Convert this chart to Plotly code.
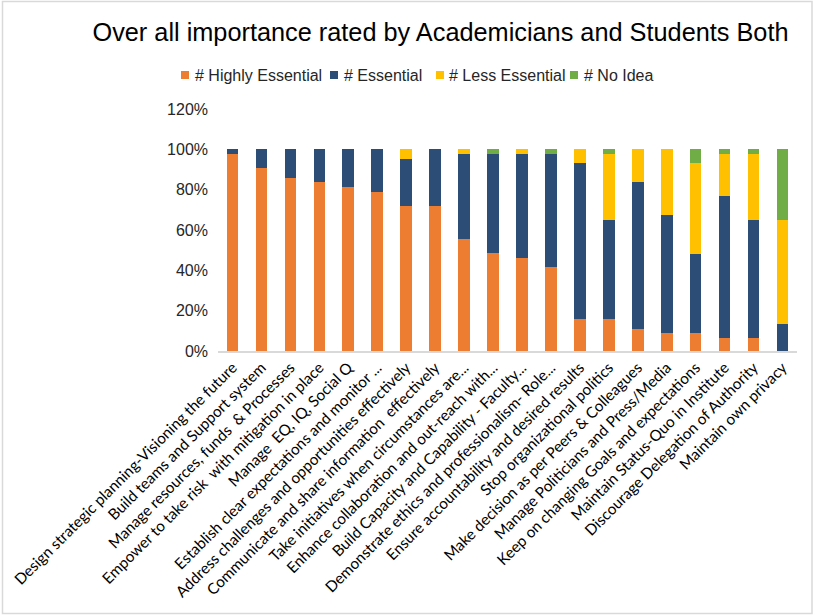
import plotly.graph_objects as go

# Competencies rated (x-axis categories)
competencies = [
    "Design strategic planning-Visioning the future",
    "Build teams and Support system",
    "Manage resources, funds  & Processes",
    "Empower to take risk  with mitigation in place",
    "Manage  EQ, IQ, Social Q",
    "Establish clear expectations and monitor ...",
    "Address challenges and opportunities effectively",
    "Communicate and share information  effectively",
    "Take initiatives when circumstances are...",
    "Enhance collaboration and out-reach with...",
    "Build Capacity and Capability - Faculty...",
    "Demonstrate ethics and professionalism- Role...",
    "Ensure accountability and desired results",
    "Stop organizational politics",
    "Make decision as per Peers & Colleagues",
    "Manage Politicians and Press/Media",
    "Keep on changing Goals and expectations",
    "Maintain Status-Quo in Institute",
    "Discourage Delegation of Authority",
    "Maintain own privacy",
]

# Share of responses per rating (percent of each competency's total)
highly_essential = [97.8, 90.8, 86.0, 83.8, 81.3, 79.0, 71.8, 71.8, 55.7, 48.5,
                    46.2, 41.7, 15.8, 15.8, 11.0, 8.8, 8.8, 6.3, 6.3, 0.0]
essential = [2.2, 9.2, 14.0, 16.2, 18.7, 21.0, 23.5, 28.2, 42.0, 49.0,
             51.3, 55.8, 77.2, 49.2, 72.7, 58.4, 39.5, 70.4, 58.7, 13.3]
less_essential = [0.0, 0.0, 0.0, 0.0, 0.0, 0.0, 4.7, 0.0, 2.3, 0.0,
                  2.5, 0.0, 7.0, 32.8, 16.3, 32.8, 44.7, 21.1, 32.8, 51.7]
no_idea = [0.0, 0.0, 0.0, 0.0, 0.0, 0.0, 0.0, 0.0, 0.0, 2.5,
           0.0, 2.5, 0.0, 2.2, 0.0, 0.0, 7.0, 2.2, 2.2, 35.0]

y_ticks = [0, 20, 40, 60, 80, 100, 120]
y_tick_labels = ["0%", "20%", "40%", "60%", "80%", "100%", "120%"]

series_names = ["# Highly Essential", "# Essential", "# Less Essential", "# No Idea"]
series_values = [highly_essential, essential, less_essential, no_idea]
series_colors = ["#ED7D31", "#2C4D75", "#FFC000", "#70AD47"]

fig = go.Figure()
for name, values, color in zip(series_names, series_values, series_colors):
    fig.add_trace(go.Bar(
        x=competencies,
        y=values,
        name=name,
        marker=dict(color=color, line=dict(width=0)),
        width=0.4,
        showlegend=False,
    ))

W, H = 816, 616
ml, mr, mt, mb = 218, 19, 109, 265
pw, ph = W - ml - mr, H - mt - mb


def px_x(x):
    return (x - ml) / pw


def px_y(y):
    return (H - mb - y) / ph


# Legend row: swatch left edge and label start (pixels), drawn as shapes + text
legend_swatch_x = [181, 330, 436, 570]
legend_text_x = [193, 342, 447, 582]
legend_y = 75
swatch = 8

shapes = [
    dict(
        type="rect", xref="paper", yref="paper",
        x0=px_x(2.5), x1=px_x(812), y0=px_y(613.5), y1=px_y(1.5),
        line=dict(color="#D9D9D9", width=1.5),
        fillcolor="rgba(0,0,0,0)",
        layer="below",
    )
]
annotations = []
for name, color, sx, tx in zip(series_names, series_colors, legend_swatch_x, legend_text_x):
    shapes.append(dict(
        type="rect", xref="paper", yref="paper",
        x0=px_x(sx), x1=px_x(sx + swatch),
        y0=px_y(legend_y + swatch / 2), y1=px_y(legend_y - swatch / 2),
        line=dict(width=0), fillcolor=color,
    ))
    annotations.append(dict(
        text=name, xref="paper", yref="paper",
        x=px_x(tx), y=px_y(legend_y), xanchor="left", yanchor="middle",
        showarrow=False, font=dict(size=16, color="#262626"),
    ))

fig.update_layout(
    width=W,
    height=H,
    margin=dict(l=ml, r=mr, t=mt, b=mb, autoexpand=False),
    barmode="stack",
    paper_bgcolor="white",
    plot_bgcolor="white",
    showlegend=False,
    font=dict(family="Liberation Sans, Arial, sans-serif", color="#262626"),
    title=dict(
        text="Over all importance rated by Academicians and Students Both",
        font=dict(size=25.3, color="#000000", family="Liberation Sans, Arial, sans-serif"),
        x=440.5 / W, xref="container", xanchor="center",
        y=1 - 32 / H, yref="container", yanchor="middle",
    ),
    bargap=0.6,
    xaxis=dict(
        tickangle=-45,
        tickfont=dict(family="Lato, Open Sans, sans-serif", size=15.3, color="#000000"),
        showline=True,
        linecolor="#D9D9D9",
        linewidth=1.5,
        showgrid=False,
        ticks="",
        fixedrange=True,
    ),
    yaxis=dict(
        range=[0, 120],
        tickvals=y_ticks,
        ticktext=y_tick_labels,
        tickfont=dict(size=16, color="#262626"),
        showgrid=False,
        zeroline=False,
        showline=False,
        ticks="",
        ticklabelstandoff=9,
        fixedrange=True,
    ),
    shapes=shapes,
    annotations=annotations,
)

fig.write_html("out.html")
